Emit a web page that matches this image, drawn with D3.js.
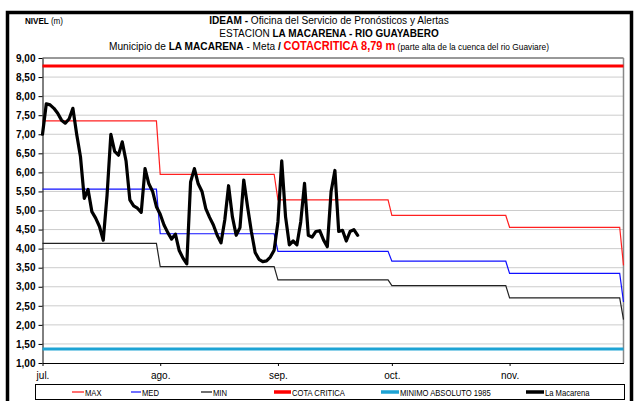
<!DOCTYPE html>
<html>
<head>
<meta charset="utf-8">
<script src="https://cdn.jsdelivr.net/npm/d3@7"></script>
<style>
  body { margin: 0; background: #fff; }
  svg { display: block; }
  text { font-family: "Liberation Sans", Arial, sans-serif; }
</style>
</head>
<body>
<script>
// meses del eje x
const months = ['jul.', 'ago.', 'sep.', 'oct.', 'nov.'];
// niveles historicos por mes (ultimo valor = 1 dic.)
const maxLevel = [7.35, 5.95, 5.28, 4.87, 4.56, 3.56];
const medLevel = [5.56, 4.39, 3.93, 3.67, 3.35, 2.60];
const minLevel = [4.14, 3.53, 3.18, 3.03, 2.71, 2.14];
const cotaCritica = 8.79;
const minimoAbsoluto = 1.37;
const yTicks = [1, 1.5, 2, 2.5, 3, 3.5, 4, 4.5, 5, 5.5, 6, 6.5, 7, 7.5, 8, 8.5, 9];
// La Macarena, lectura diaria desde 1 jul.
const macarena = [
  7.00, 7.80, 7.77, 7.68, 7.55, 7.37, 7.29, 7.40, 7.68, 7.00,
  6.41, 5.32, 5.55, 4.97, 4.80, 4.58, 4.22, 5.40, 7.00, 6.55,
  6.45, 6.80, 6.30, 5.28, 5.12, 5.06, 4.95, 6.10, 5.70, 5.50,
  5.10, 4.90, 4.62, 4.42, 4.25, 4.38, 3.95, 3.75, 3.60, 5.75,
  6.10, 5.70, 5.50, 5.05, 4.82, 4.62, 4.35, 4.15, 4.75, 5.65,
  4.84, 4.35, 4.55, 5.80, 5.10, 4.45, 3.90, 3.72, 3.66, 3.68,
  3.78, 3.96, 4.70, 6.30, 4.84, 4.10, 4.20, 4.10, 4.70, 5.71,
  4.35, 4.30, 4.45, 4.47, 4.23, 4.05, 5.50, 6.05, 4.45, 4.48,
  4.20, 4.45, 4.50, 4.35
];

const W = 634, H = 401;
const DAY = 864e5;
const year = 2011;
const monthStart = months.map((m, i) => new Date(Date.UTC(year, 6 + i, 1)));
const endDate = new Date(Date.UTC(year, 11, 1));

const svg = d3.select('body').append('svg').attr('width', W).attr('height', H);
svg.append('rect').attr('width', W).attr('height', H).attr('fill', '#fff');

// marco exterior
svg.append('rect')
  .attr('x', 7.5).attr('y', 12.5).attr('width', 624).attr('height', 430)
  .attr('fill', 'none').attr('stroke', '#000').attr('stroke-width', 3.5);

const x = d3.scaleUtc().domain([monthStart[0], endDate]).range([42.5, 623.5]);
const y = d3.scaleLinear().domain([1, 9]).range([363, 58]);

// titulo (texto estrecho: se comprime en horizontal)
function titleLine(yPos, sx) {
  return svg.append('g').attr('transform', `translate(329,${yPos}) scale(${sx},1)`)
    .append('text').attr('text-anchor', 'middle').attr('font-size', 11.5).attr('fill', '#000');
}
let t = titleLine(24, 0.88);
t.append('tspan').attr('font-weight', 'bold').text('IDEAM - ');
t.append('tspan').text('Oficina del Servicio de Pronósticos y Alertas');
t = titleLine(37, 0.87);
t.append('tspan').text('ESTACION ');
t.append('tspan').attr('font-weight', 'bold').text('LA MACARENA - RIO GUAYABERO');
t = titleLine(50, 0.88);
t.append('tspan').text('Municipio de ');
t.append('tspan').attr('font-weight', 'bold').text('LA MACARENA');
t.append('tspan').text(' - Meta  ');
t.append('tspan').attr('font-weight', 'bold').text('/  ');
t.append('tspan').attr('font-weight', 'bold').attr('fill', '#f00').attr('font-size', 12.5).text('COTACRITICA 8,79 m');
t.append('tspan').attr('font-size', 9.5).text(' (parte alta de la cuenca del rio Guaviare)');

t = svg.append('g').attr('transform', 'translate(25,24) scale(0.9,1)')
  .append('text').attr('font-size', 9);
t.append('tspan').attr('font-weight', 'bold').text('NIVEL ');
t.append('tspan').text('(m)');

// rejilla
svg.append('g').selectAll('line')
  .data(yTicks.filter(v => v > 1 && v < 9))
  .join('line')
  .attr('x1', x.range()[0]).attr('x2', x.range()[1])
  .attr('y1', d => y(d)).attr('y2', d => y(d))
  .attr('stroke', '#999').attr('stroke-width', 1).attr('stroke-dasharray', '1,1');

// marco del area
svg.append('line').attr('x1', x.range()[0]).attr('x2', x.range()[1]).attr('y1', y(9)).attr('y2', y(9))
  .attr('stroke', '#333');
svg.append('line').attr('x1', x.range()[1]).attr('x2', x.range()[1]).attr('y1', y(9)).attr('y2', y(1))
  .attr('stroke', '#888').attr('stroke-width', 1.5);

// ejes
const yAxis = svg.append('g').attr('transform', `translate(${x.range()[0]},0)`)
  .call(d3.axisLeft(y).tickValues(yTicks).tickSize(4).tickSizeOuter(0)
    .tickFormat(d => d.toFixed(2).replace('.', ',')));
yAxis.selectAll('text').attr('font-family', '"Liberation Sans", Arial, sans-serif')
  .attr('font-weight', 'bold').attr('font-size', 10).attr('fill', '#000').attr('x', -7);
yAxis.selectAll('line,path').attr('stroke', '#000');

const xAxis = svg.append('g').attr('transform', `translate(0,${y(1)})`)
  .call(d3.axisBottom(x).tickValues(monthStart).tickSize(3).tickSizeOuter(0)
    .tickFormat((d, i) => months[i]));
xAxis.selectAll('text').attr('font-family', '"Liberation Sans", Arial, sans-serif')
  .attr('font-size', 10).attr('fill', '#000').attr('y', 9);
xAxis.selectAll('line,path').attr('stroke', '#000');

// series escalonadas
function stepPoints(vals) {
  const pts = [];
  months.forEach((m, i) => {
    const end = i < months.length - 1 ? monthStart[i + 1] : endDate;
    pts.push([monthStart[i], vals[i]]);
    pts.push([new Date(+end - DAY), vals[i]]);
  });
  pts.push([endDate, vals[vals.length - 1]]);
  return pts;
}
const line = d3.line().x(d => x(d[0])).y(d => y(d[1]));

const series = [
  {vals: maxLevel, color: '#ff2020', w: 1.2},
  {vals: medLevel, color: '#1010ff', w: 1.2},
  {vals: minLevel, color: '#222', w: 1.2}
];
series.forEach(s => {
  svg.append('path').datum(stepPoints(s.vals)).attr('d', line)
    .attr('fill', 'none').attr('stroke', s.color).attr('stroke-width', s.w);
});

svg.append('line').attr('x1', x.range()[0]).attr('x2', x.range()[1])
  .attr('y1', y(cotaCritica)).attr('y2', y(cotaCritica))
  .attr('stroke', '#f00').attr('stroke-width', 3);
svg.append('line').attr('x1', x.range()[0]).attr('x2', x.range()[1])
  .attr('y1', y(minimoAbsoluto)).attr('y2', y(minimoAbsoluto))
  .attr('stroke', '#1ea3d4').attr('stroke-width', 3);

const macData = macarena.map((v, i) => [new Date(+monthStart[0] + i * DAY), v]);
svg.append('path').datum(macData).attr('d', line)
  .attr('fill', 'none').attr('stroke', '#000').attr('stroke-width', 3.2)
  .attr('stroke-linejoin', 'round').attr('stroke-linecap', 'round');

// leyenda
svg.append('rect').attr('x', 35.5).attr('y', 384.5).attr('width', 589).attr('height', 15)
  .attr('fill', '#fff').attr('stroke', '#000').attr('stroke-width', 1);
const legend = [
  {name: 'MAX', color: '#ff7070', w: 2, x0: 72, x1: 84},
  {name: 'MED', color: '#7070ff', w: 2, x0: 131, x1: 141},
  {name: 'MIN', color: '#707070', w: 2, x0: 201, x1: 212},
  {name: 'COTA CRITICA', color: '#f00', w: 3.5, x0: 274, x1: 291},
  {name: 'MINIMO ABSOLUTO 1985', color: '#1ea3d4', w: 3.5, x0: 381, x1: 399},
  {name: 'La Macarena', color: '#000', w: 3.5, x0: 526, x1: 544}
];
const lg = svg.append('g').selectAll('g').data(legend).join('g');
lg.append('line').attr('x1', d => d.x0).attr('x2', d => d.x1).attr('y1', 392).attr('y2', 392)
  .attr('stroke', d => d.color).attr('stroke-width', d => d.w);
lg.append('g').attr('transform', d => `translate(${d.x1 + 1},395.5) scale(0.85,1)`)
  .append('text').attr('font-size', 9).attr('fill', '#000').text(d => d.name);
</script>
</body>
</html>
